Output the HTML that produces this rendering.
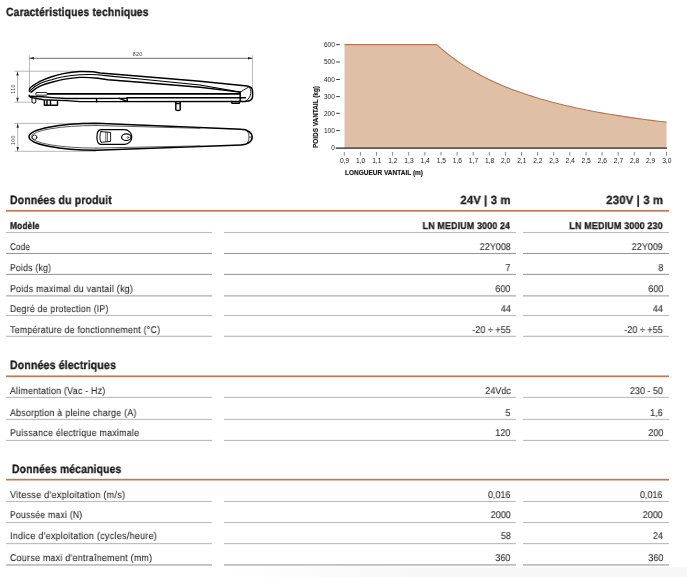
<!DOCTYPE html>
<html><head><meta charset="utf-8"><style>
html,body{margin:0;padding:0;background:#fff;}
body{width:687px;height:577px;position:relative;overflow:hidden;font-family:"Liberation Sans",sans-serif;}
.t{position:absolute;white-space:nowrap;text-rendering:geometricPrecision;will-change:transform;}
.l{position:absolute;}
svg{position:absolute;left:0;top:0;}
</style></head><body>
<div style="position:absolute;left:220px;top:567px;width:467px;height:10px;background:linear-gradient(to right,rgba(247,247,247,0),rgba(247,247,247,1) 45%)"></div>
<svg width="687" height="577" style="position:absolute;left:0;top:0"><rect x="6" y="209.95" width="663.0" height="1.7" fill="#bc7a55"/>
<rect x="6" y="231.95" width="206.0" height="1.1" fill="#bbbbbb"/>
<rect x="224" y="231.95" width="292.0" height="1.1" fill="#bbbbbb"/>
<rect x="523" y="231.95" width="146.0" height="1.1" fill="#bbbbbb"/>
<rect x="6" y="252.95" width="206.0" height="1.1" fill="#999"/>
<rect x="224" y="252.95" width="292.0" height="1.1" fill="#999"/>
<rect x="523" y="252.95" width="146.0" height="1.1" fill="#999"/>
<rect x="6" y="273.85" width="206.0" height="1.1" fill="#9c9c9c"/>
<rect x="224" y="273.85" width="292.0" height="1.1" fill="#9c9c9c"/>
<rect x="523" y="273.85" width="146.0" height="1.1" fill="#9c9c9c"/>
<rect x="6" y="294.90" width="206.0" height="1.8" fill="#c2c2c2"/>
<rect x="224" y="294.90" width="292.0" height="1.8" fill="#c2c2c2"/>
<rect x="523" y="294.90" width="146.0" height="1.8" fill="#c2c2c2"/>
<rect x="6" y="314.95" width="206.0" height="1.1" fill="#bbbbbb"/>
<rect x="224" y="314.95" width="292.0" height="1.1" fill="#bbbbbb"/>
<rect x="523" y="314.95" width="146.0" height="1.1" fill="#bbbbbb"/>
<rect x="6" y="335.75" width="206.0" height="1.1" fill="#bbbbbb"/>
<rect x="224" y="335.75" width="292.0" height="1.1" fill="#bbbbbb"/>
<rect x="523" y="335.75" width="146.0" height="1.1" fill="#bbbbbb"/>
<rect x="6" y="375.45" width="663.0" height="1.7" fill="#bc7a55"/>
<rect x="6" y="396.85" width="206.0" height="1.1" fill="#bbbbbb"/>
<rect x="224" y="396.85" width="292.0" height="1.1" fill="#bbbbbb"/>
<rect x="523" y="396.85" width="146.0" height="1.1" fill="#bbbbbb"/>
<rect x="6" y="418.85" width="206.0" height="1.1" fill="#bbbbbb"/>
<rect x="224" y="418.85" width="292.0" height="1.1" fill="#bbbbbb"/>
<rect x="523" y="418.85" width="146.0" height="1.1" fill="#bbbbbb"/>
<rect x="6" y="439.90" width="206.0" height="1.1" fill="#bbbbbb"/>
<rect x="224" y="439.90" width="292.0" height="1.1" fill="#bbbbbb"/>
<rect x="523" y="439.90" width="146.0" height="1.1" fill="#bbbbbb"/>
<rect x="6" y="478.80" width="663.0" height="1.7" fill="#bc7a55"/>
<rect x="6" y="500.95" width="206.0" height="1.1" fill="#bbbbbb"/>
<rect x="224" y="500.95" width="292.0" height="1.1" fill="#bbbbbb"/>
<rect x="523" y="500.95" width="146.0" height="1.1" fill="#bbbbbb"/>
<rect x="6" y="521.95" width="206.0" height="1.1" fill="#bbbbbb"/>
<rect x="224" y="521.95" width="292.0" height="1.1" fill="#bbbbbb"/>
<rect x="523" y="521.95" width="146.0" height="1.1" fill="#bbbbbb"/>
<rect x="6" y="543.05" width="206.0" height="1.1" fill="#bbbbbb"/>
<rect x="224" y="543.05" width="292.0" height="1.1" fill="#bbbbbb"/>
<rect x="523" y="543.05" width="146.0" height="1.1" fill="#bbbbbb"/>
<rect x="6" y="564.00" width="206.0" height="1.8" fill="#c0c0c0"/>
<rect x="224" y="564.00" width="292.0" height="1.8" fill="#c0c0c0"/>
<rect x="523" y="564.00" width="146.0" height="1.8" fill="#c0c0c0"/>
</svg>
<div class="t" style="left:6.3px;transform-origin:0 0;transform:scaleX(0.8648);top:5.54px;font-size:12px;line-height:12px;letter-spacing:0.15px;font-weight:bold;color:#1c1a1b;-webkit-text-stroke:0.3px #1c1a1b">Caractéristiques techniques</div>
<div class="t" style="left:10px;transform-origin:0 0;transform:scaleX(0.8773);top:193.94px;font-size:12px;line-height:12px;letter-spacing:0.15px;font-weight:bold;color:#1c1a1b;-webkit-text-stroke:0.3px #1c1a1b">Données du produit</div>
<div class="t" style="right:176.5px;transform-origin:100% 0;transform:scaleX(0.9537);top:194.91px;font-size:11.8px;line-height:11.8px;letter-spacing:0.15px;font-weight:bold;color:#1c1a1b;-webkit-text-stroke:0.3px #1c1a1b">24V | 3 m</div>
<div class="t" style="right:24px;transform-origin:100% 0;transform:scaleX(0.9620);top:194.91px;font-size:11.8px;line-height:11.8px;letter-spacing:0.15px;font-weight:bold;color:#1c1a1b;-webkit-text-stroke:0.3px #1c1a1b">230V | 3 m</div>
<div class="t" style="left:10px;transform-origin:0 0;transform:scaleX(0.8570);top:221.50px;font-size:9.8px;line-height:9.8px;letter-spacing:0.15px;font-weight:bold;color:#1c1a1b;-webkit-text-stroke:0.3px #1c1a1b">Modèle</div>
<div class="t" style="right:176.5px;transform-origin:100% 0;transform:scaleX(0.9106);top:221.50px;font-size:9.8px;line-height:9.8px;letter-spacing:0.15px;font-weight:bold;color:#1c1a1b;-webkit-text-stroke:0.3px #1c1a1b">LN MEDIUM 3000 24</div>
<div class="t" style="right:24px;transform-origin:100% 0;transform:scaleX(0.9185);top:221.50px;font-size:9.8px;line-height:9.8px;letter-spacing:0.15px;font-weight:bold;color:#1c1a1b;-webkit-text-stroke:0.3px #1c1a1b">LN MEDIUM 3000 230</div>
<div class="t" style="left:10px;transform-origin:0 0;transform:scaleX(0.8203);top:242.70px;font-size:9.8px;line-height:9.8px;letter-spacing:0.3px;font-weight:normal;color:#2a2a2a;-webkit-text-stroke:0.1px #2a2a2a">Code</div>
<div class="t" style="right:176.5px;transform-origin:100% 0;transform:scaleX(0.9200);top:242.70px;font-size:9.8px;line-height:9.8px;letter-spacing:0px;font-weight:normal;color:#2a2a2a;-webkit-text-stroke:0.1px #2a2a2a">22Y008</div>
<div class="t" style="right:24px;transform-origin:100% 0;transform:scaleX(0.9200);top:242.70px;font-size:9.8px;line-height:9.8px;letter-spacing:0px;font-weight:normal;color:#2a2a2a;-webkit-text-stroke:0.1px #2a2a2a">22Y009</div>
<div class="t" style="left:10px;transform-origin:0 0;transform:scaleX(0.8767);top:263.60px;font-size:9.8px;line-height:9.8px;letter-spacing:0.3px;font-weight:normal;color:#2a2a2a;-webkit-text-stroke:0.1px #2a2a2a">Poids (kg)</div>
<div class="t" style="right:176.5px;transform-origin:100% 0;transform:scaleX(0.9200);top:263.60px;font-size:9.8px;line-height:9.8px;letter-spacing:0px;font-weight:normal;color:#2a2a2a;-webkit-text-stroke:0.1px #2a2a2a">7</div>
<div class="t" style="right:24px;transform-origin:100% 0;transform:scaleX(0.9200);top:263.60px;font-size:9.8px;line-height:9.8px;letter-spacing:0px;font-weight:normal;color:#2a2a2a;-webkit-text-stroke:0.1px #2a2a2a">8</div>
<div class="t" style="left:10px;transform-origin:0 0;transform:scaleX(0.9008);top:284.50px;font-size:9.8px;line-height:9.8px;letter-spacing:0.3px;font-weight:normal;color:#2a2a2a;-webkit-text-stroke:0.1px #2a2a2a">Poids maximal du vantail (kg)</div>
<div class="t" style="right:176.5px;transform-origin:100% 0;transform:scaleX(0.9200);top:284.50px;font-size:9.8px;line-height:9.8px;letter-spacing:0px;font-weight:normal;color:#2a2a2a;-webkit-text-stroke:0.1px #2a2a2a">600</div>
<div class="t" style="right:24px;transform-origin:100% 0;transform:scaleX(0.9200);top:284.50px;font-size:9.8px;line-height:9.8px;letter-spacing:0px;font-weight:normal;color:#2a2a2a;-webkit-text-stroke:0.1px #2a2a2a">600</div>
<div class="t" style="left:10px;transform-origin:0 0;transform:scaleX(0.8831);top:304.50px;font-size:9.8px;line-height:9.8px;letter-spacing:0.3px;font-weight:normal;color:#2a2a2a;-webkit-text-stroke:0.1px #2a2a2a">Degré de protection (IP)</div>
<div class="t" style="right:176.5px;transform-origin:100% 0;transform:scaleX(0.9200);top:304.50px;font-size:9.8px;line-height:9.8px;letter-spacing:0px;font-weight:normal;color:#2a2a2a;-webkit-text-stroke:0.1px #2a2a2a">44</div>
<div class="t" style="right:24px;transform-origin:100% 0;transform:scaleX(0.9200);top:304.50px;font-size:9.8px;line-height:9.8px;letter-spacing:0px;font-weight:normal;color:#2a2a2a;-webkit-text-stroke:0.1px #2a2a2a">44</div>
<div class="t" style="left:10px;transform-origin:0 0;transform:scaleX(0.8905);top:325.80px;font-size:9.8px;line-height:9.8px;letter-spacing:0.3px;font-weight:normal;color:#2a2a2a;-webkit-text-stroke:0.1px #2a2a2a">Température de fonctionnement (°C)</div>
<div class="t" style="right:176.5px;transform-origin:100% 0;transform:scaleX(0.9200);top:325.80px;font-size:9.8px;line-height:9.8px;letter-spacing:0px;font-weight:normal;color:#2a2a2a;-webkit-text-stroke:0.1px #2a2a2a">-20 ÷ +55</div>
<div class="t" style="right:24px;transform-origin:100% 0;transform:scaleX(0.9200);top:325.80px;font-size:9.8px;line-height:9.8px;letter-spacing:0px;font-weight:normal;color:#2a2a2a;-webkit-text-stroke:0.1px #2a2a2a">-20 ÷ +55</div>
<div class="t" style="left:9.8px;transform-origin:0 0;transform:scaleX(0.8816);top:359.04px;font-size:12px;line-height:12px;letter-spacing:0.15px;font-weight:bold;color:#1c1a1b;-webkit-text-stroke:0.3px #1c1a1b">Données électriques</div>
<div class="t" style="left:10px;transform-origin:0 0;transform:scaleX(0.8933);top:386.80px;font-size:9.8px;line-height:9.8px;letter-spacing:0.3px;font-weight:normal;color:#2a2a2a;-webkit-text-stroke:0.1px #2a2a2a">Alimentation (Vac - Hz)</div>
<div class="t" style="right:176.5px;transform-origin:100% 0;transform:scaleX(0.9200);top:386.80px;font-size:9.8px;line-height:9.8px;letter-spacing:0px;font-weight:normal;color:#2a2a2a;-webkit-text-stroke:0.1px #2a2a2a">24Vdc</div>
<div class="t" style="right:24px;transform-origin:100% 0;transform:scaleX(0.9200);top:386.80px;font-size:9.8px;line-height:9.8px;letter-spacing:0px;font-weight:normal;color:#2a2a2a;-webkit-text-stroke:0.1px #2a2a2a">230 - 50</div>
<div class="t" style="left:10px;transform-origin:0 0;transform:scaleX(0.8964);top:409.00px;font-size:9.8px;line-height:9.8px;letter-spacing:0.3px;font-weight:normal;color:#2a2a2a;-webkit-text-stroke:0.1px #2a2a2a">Absorption à pleine charge (A)</div>
<div class="t" style="right:176.5px;transform-origin:100% 0;transform:scaleX(0.9200);top:409.00px;font-size:9.8px;line-height:9.8px;letter-spacing:0px;font-weight:normal;color:#2a2a2a;-webkit-text-stroke:0.1px #2a2a2a">5</div>
<div class="t" style="right:24px;transform-origin:100% 0;transform:scaleX(0.9200);top:409.00px;font-size:9.8px;line-height:9.8px;letter-spacing:0px;font-weight:normal;color:#2a2a2a;-webkit-text-stroke:0.1px #2a2a2a">1,6</div>
<div class="t" style="left:10px;transform-origin:0 0;transform:scaleX(0.8995);top:429.20px;font-size:9.8px;line-height:9.8px;letter-spacing:0.3px;font-weight:normal;color:#2a2a2a;-webkit-text-stroke:0.1px #2a2a2a">Puissance électrique maximale</div>
<div class="t" style="right:176.5px;transform-origin:100% 0;transform:scaleX(0.9200);top:429.20px;font-size:9.8px;line-height:9.8px;letter-spacing:0px;font-weight:normal;color:#2a2a2a;-webkit-text-stroke:0.1px #2a2a2a">120</div>
<div class="t" style="right:24px;transform-origin:100% 0;transform:scaleX(0.9200);top:429.20px;font-size:9.8px;line-height:9.8px;letter-spacing:0px;font-weight:normal;color:#2a2a2a;-webkit-text-stroke:0.1px #2a2a2a">200</div>
<div class="t" style="left:11.7px;transform-origin:0 0;transform:scaleX(0.8677);top:463.14px;font-size:12px;line-height:12px;letter-spacing:0.15px;font-weight:bold;color:#1c1a1b;-webkit-text-stroke:0.3px #1c1a1b">Données mécaniques</div>
<div class="t" style="left:10px;transform-origin:0 0;transform:scaleX(0.9225);top:490.50px;font-size:9.8px;line-height:9.8px;letter-spacing:0.3px;font-weight:normal;color:#2a2a2a;-webkit-text-stroke:0.1px #2a2a2a">Vitesse d'exploitation (m/s)</div>
<div class="t" style="right:176.5px;transform-origin:100% 0;transform:scaleX(0.9200);top:490.50px;font-size:9.8px;line-height:9.8px;letter-spacing:0px;font-weight:normal;color:#2a2a2a;-webkit-text-stroke:0.1px #2a2a2a">0,016</div>
<div class="t" style="right:24px;transform-origin:100% 0;transform:scaleX(0.9200);top:490.50px;font-size:9.8px;line-height:9.8px;letter-spacing:0px;font-weight:normal;color:#2a2a2a;-webkit-text-stroke:0.1px #2a2a2a">0,016</div>
<div class="t" style="left:10px;transform-origin:0 0;transform:scaleX(0.8771);top:511.40px;font-size:9.8px;line-height:9.8px;letter-spacing:0.3px;font-weight:normal;color:#2a2a2a;-webkit-text-stroke:0.1px #2a2a2a">Poussée maxi (N)</div>
<div class="t" style="right:176.5px;transform-origin:100% 0;transform:scaleX(0.9200);top:511.40px;font-size:9.8px;line-height:9.8px;letter-spacing:0px;font-weight:normal;color:#2a2a2a;-webkit-text-stroke:0.1px #2a2a2a">2000</div>
<div class="t" style="right:24px;transform-origin:100% 0;transform:scaleX(0.9200);top:511.40px;font-size:9.8px;line-height:9.8px;letter-spacing:0px;font-weight:normal;color:#2a2a2a;-webkit-text-stroke:0.1px #2a2a2a">2000</div>
<div class="t" style="left:10px;transform-origin:0 0;transform:scaleX(0.9142);top:532.30px;font-size:9.8px;line-height:9.8px;letter-spacing:0.3px;font-weight:normal;color:#2a2a2a;-webkit-text-stroke:0.1px #2a2a2a">Indice d'exploitation (cycles/heure)</div>
<div class="t" style="right:176.5px;transform-origin:100% 0;transform:scaleX(0.9200);top:532.30px;font-size:9.8px;line-height:9.8px;letter-spacing:0px;font-weight:normal;color:#2a2a2a;-webkit-text-stroke:0.1px #2a2a2a">58</div>
<div class="t" style="right:24px;transform-origin:100% 0;transform:scaleX(0.9200);top:532.30px;font-size:9.8px;line-height:9.8px;letter-spacing:0px;font-weight:normal;color:#2a2a2a;-webkit-text-stroke:0.1px #2a2a2a">24</div>
<div class="t" style="left:10px;transform-origin:0 0;transform:scaleX(0.9033);top:553.80px;font-size:9.8px;line-height:9.8px;letter-spacing:0.3px;font-weight:normal;color:#2a2a2a;-webkit-text-stroke:0.1px #2a2a2a">Course maxi d'entraînement (mm)</div>
<div class="t" style="right:176.5px;transform-origin:100% 0;transform:scaleX(0.9200);top:553.80px;font-size:9.8px;line-height:9.8px;letter-spacing:0px;font-weight:normal;color:#2a2a2a;-webkit-text-stroke:0.1px #2a2a2a">360</div>
<div class="t" style="right:24px;transform-origin:100% 0;transform:scaleX(0.9200);top:553.80px;font-size:9.8px;line-height:9.8px;letter-spacing:0px;font-weight:normal;color:#2a2a2a;-webkit-text-stroke:0.1px #2a2a2a">360</div>

<svg width="687" height="577" viewBox="0 0 687 577">
<g fill="none" stroke="#1e1e1e" stroke-linecap="round" stroke-linejoin="round">
<!-- dimension 820 -->
<g stroke="#888" stroke-width="0.6">
<line x1="29.5" y1="55.7" x2="29.5" y2="90.5"/>
<line x1="252.4" y1="55.7" x2="252.4" y2="88"/>
<line x1="14.6" y1="71.2" x2="80" y2="71.2"/>
<line x1="14.6" y1="102.2" x2="32" y2="102.2"/>
<line x1="17.5" y1="72" x2="17.5" y2="101.5"/>
<line x1="15" y1="123.4" x2="96" y2="123.4"/>
<line x1="15" y1="151.3" x2="96" y2="151.3"/>
<line x1="17.7" y1="124" x2="17.7" y2="150.7"/>
</g>
<line x1="30" y1="58.3" x2="252" y2="58.3" stroke="#333" stroke-width="0.7"/>
<g fill="#222" stroke="none">
<path d="M29.5,58.3 L34,57 L34,59.6 Z"/>
<path d="M252.4,58.3 L248,57 L248,59.6 Z"/>
<path d="M17.5,71.4 L16.3,75.6 L18.7,75.6 Z"/>
<path d="M17.5,102 L16.3,97.8 L18.7,97.8 Z"/>
<path d="M17.7,123.6 L16.5,127.8 L18.9,127.8 Z"/>
<path d="M17.7,151.1 L16.5,146.9 L18.9,146.9 Z"/>
</g>
<!-- side view body -->
<g stroke-width="1.45" stroke="#000">
<path d="M29.5,91.6 L29.6,88.6 C32.5,85.5 36,83.5 40,81.4 C44,79.5 48,78 51.6,76.8 C56,75.3 60,74.3 63.3,73.6 C68,72.6 74,71.7 80,71.5 C86,71.3 90,71.6 93.2,71.8 L100.2,73 L140,76.2 L200,81.2 L247.2,86 C250.5,86.4 252.6,88.5 252.6,91.5 L252.6,96 C252.6,99.5 249.5,101.3 245.4,101.4"/>
<path d="M30.6,90.1 C33.5,87.5 37,85 40,83.5 C44,81.7 48,80.7 51.6,79.7 C56,78.3 60,77.4 63.3,76.8 C68,75.8 73,75 80,74.7 C86,74.5 92,74.4 97.9,74.7 L108,75.9 L140,79 L200,85 L240.2,92.1" stroke-width="1.1"/>
<path d="M31.8,91.6 C34,89.6 37,87.5 40,86.1 C44,84.4 48,83.2 51.6,82.3 C56,81 60,80 63.3,79.4 C68,78.5 74,77.6 80,77.4 C86,77.3 92,77.6 97.9,78.2 L108,79.7 L140,82.2 L200,87.3 L240.2,92.1"/>
<path d="M240.2,92.1 L248.9,86.9 C252,89.5 252,97.5 245.4,101.3" stroke-width="0.9"/>
<path d="M240.2,92.1 L240.2,101.3"/>
<path d="M29.5,91.6 L31.8,92.4" stroke-width="1"/>
<rect x="35.6" y="92.5" width="11.9" height="2.7" rx="1.3" stroke-width="0.8"/>
<line x1="47.5" y1="93.8" x2="240.2" y2="93.8" stroke-width="1.7"/>
<path d="M29.3,95.3 L29.3,96.5 L31.8,96.2 L42.3,96.8 L52.2,97.6 L66,98.5 L127,98.3 L127,97.6 L245.4,97.8"/>
<path d="M30.7,97.4 L43.5,99.7 L66,100.6 L80,101.6 L245.4,101.4"/>
<path d="M96.6,99.5 L96.6,101.7 M119.3,98.3 L126.3,101.2 M127.2,97.6 L127.2,101.2"/>
<path d="M32,97.8 L32,101.8 C32,103.6 35.8,103.6 35.8,101.8 L35.8,98" stroke-width="1"/>
<path d="M44.4,100.8 L44.4,105.3 L57.5,105.3 L57.5,101.2 M47,100.8 L47,105.3 M50.5,101 L50.5,105.3"/>
<path d="M175.8,101.6 L175.8,109.8 C175.8,110.8 180.2,110.8 180.2,109.8 L180.2,101.6 M175.8,103.5 L180.2,103.5"/>
<path d="M231.4,101.4 L232,103.3 L239.2,103.3 L239.7,101.4"/>
</g>
<!-- top view -->
<g stroke="#000">
<path d="M96,123.3 L241.3,129.2 A10.9,7.9 0 0 1 241.3,145 L96,150.3 A67,13.5 0 0 1 96,123.3 Z" stroke-width="1.55"/>
<path d="M96,125.5 L200,128.3 M96,148.1 L200,145.9 M96,125.5 A64.8,11.3 0 0 0 96,148.1" stroke-width="0.8" stroke="#333"/>
<path d="M247.3,131.2 C249.6,133.5 249.6,140.7 247.3,143 M249.4,137.1 L252,137.1" stroke-width="0.7"/>
<circle cx="34.6" cy="137.3" r="2.3" stroke-width="0.8"/>
<path d="M101,129.7 L124.5,129.7 A7.3,7.3 0 0 1 124.5,144.3 L101,144.3 C98,144.3 96.9,141 96.9,137 C96.9,133 98,129.7 101,129.7 Z" stroke-width="1.2"/>
<path d="M101,131.6 L110.6,132.4 L110.6,141.4 L101,142.3 C99.5,140 99.5,134 101,131.6 Z" stroke-width="0.9"/>
<path d="M105.8,132.5 L105.8,141.3 M107.4,132.5 L107.4,141.3" stroke-width="0.6"/>
<ellipse cx="126.3" cy="137.2" rx="4.7" ry="3.3" stroke-width="1.2"/>
<circle cx="127.8" cy="137.5" r="0.9" stroke-width="0.5"/>
</g>
</g>
<g font-family="Liberation Sans" fill="#444" font-size="5.2">
<text x="132.8" y="55.7" letter-spacing="0.4">820</text>
<text transform="translate(14.8,93.7) rotate(-90)" letter-spacing="0.4">110</text>
<text transform="translate(15,145.1) rotate(-90)" letter-spacing="0.4">100</text>
</g>
<path d="M344.5,148.0 L344.5,44.6 L436.5,44.45 L441.5,48.87 L446.5,53.00 L451.5,56.87 L456.5,60.50 L461.5,63.91 L466.5,67.12 L471.5,70.15 L476.5,73.01 L481.5,75.71 L486.5,78.26 L491.5,80.67 L496.5,82.97 L501.5,85.14 L506.5,87.21 L511.5,89.17 L516.5,91.04 L521.5,92.82 L526.5,94.52 L531.5,96.14 L536.5,97.69 L541.5,99.17 L546.5,100.59 L551.5,101.94 L556.5,103.24 L561.5,104.49 L566.5,105.68 L571.5,106.83 L576.5,107.93 L581.5,108.99 L586.5,110.01 L591.5,110.98 L596.5,111.93 L601.5,112.84 L606.5,113.71 L611.5,114.55 L616.5,115.37 L621.5,116.15 L626.5,116.91 L631.5,117.64 L636.5,118.35 L641.5,119.04 L646.5,119.70 L651.5,120.34 L656.5,120.96 L661.5,121.56 L666.5,122.15 L666.5,148.0 Z" fill="#dfbfa5" stroke="none"/>
<path d="M344.5,44.6 L436.5,44.45 L441.5,48.87 L446.5,53.00 L451.5,56.87 L456.5,60.50 L461.5,63.91 L466.5,67.12 L471.5,70.15 L476.5,73.01 L481.5,75.71 L486.5,78.26 L491.5,80.67 L496.5,82.97 L501.5,85.14 L506.5,87.21 L511.5,89.17 L516.5,91.04 L521.5,92.82 L526.5,94.52 L531.5,96.14 L536.5,97.69 L541.5,99.17 L546.5,100.59 L551.5,101.94 L556.5,103.24 L561.5,104.49 L566.5,105.68 L571.5,106.83 L576.5,107.93 L581.5,108.99 L586.5,110.01 L591.5,110.98 L596.5,111.93 L601.5,112.84 L606.5,113.71 L611.5,114.55 L616.5,115.37 L621.5,116.15 L626.5,116.91 L631.5,117.64 L636.5,118.35 L641.5,119.04 L646.5,119.70 L651.5,120.34 L656.5,120.96 L661.5,121.56 L666.5,122.15" fill="none" stroke="#b8744c" stroke-width="1.1"/>
<line x1="335.8" y1="148.2" x2="667" y2="148.2" stroke="#222" stroke-width="1.3"/>
<line x1="336.2" y1="44.6" x2="339.8" y2="44.6" stroke="#222" stroke-width="0.9"/>
<text x="334.8" y="47.0" text-anchor="end" font-size="6.8" fill="#222" font-family="Liberation Sans" textLength="10.9" lengthAdjust="spacingAndGlyphs">600</text>
<line x1="336.2" y1="62.0" x2="339.8" y2="62.0" stroke="#222" stroke-width="0.9"/>
<text x="334.8" y="64.4" text-anchor="end" font-size="6.8" fill="#222" font-family="Liberation Sans" textLength="10.9" lengthAdjust="spacingAndGlyphs">500</text>
<line x1="336.2" y1="79.5" x2="339.8" y2="79.5" stroke="#222" stroke-width="0.9"/>
<text x="334.8" y="81.9" text-anchor="end" font-size="6.8" fill="#222" font-family="Liberation Sans" textLength="10.9" lengthAdjust="spacingAndGlyphs">400</text>
<line x1="336.2" y1="96.6" x2="339.8" y2="96.6" stroke="#222" stroke-width="0.9"/>
<text x="334.8" y="99.0" text-anchor="end" font-size="6.8" fill="#222" font-family="Liberation Sans" textLength="10.9" lengthAdjust="spacingAndGlyphs">300</text>
<line x1="336.2" y1="113.3" x2="339.8" y2="113.3" stroke="#222" stroke-width="0.9"/>
<text x="334.8" y="115.7" text-anchor="end" font-size="6.8" fill="#222" font-family="Liberation Sans" textLength="10.9" lengthAdjust="spacingAndGlyphs">200</text>
<line x1="336.2" y1="130.6" x2="339.8" y2="130.6" stroke="#222" stroke-width="0.9"/>
<text x="334.8" y="133.0" text-anchor="end" font-size="6.8" fill="#222" font-family="Liberation Sans" textLength="10.9" lengthAdjust="spacingAndGlyphs">100</text>
<text x="334.8" y="150.4" text-anchor="end" font-size="6.8" fill="#222" font-family="Liberation Sans" textLength="3.6" lengthAdjust="spacingAndGlyphs">0</text>
<line x1="344.3" y1="152" x2="344.3" y2="155.6" stroke="#555" stroke-width="0.7"/>
<text x="344.6" y="163.2" text-anchor="middle" font-size="6.7" fill="#222" font-family="Liberation Sans">0,9</text>
<line x1="360.4" y1="152" x2="360.4" y2="155.6" stroke="#555" stroke-width="0.7"/>
<text x="360.7" y="163.2" text-anchor="middle" font-size="6.7" fill="#222" font-family="Liberation Sans">1,0</text>
<line x1="376.5" y1="152" x2="376.5" y2="155.6" stroke="#555" stroke-width="0.7"/>
<text x="376.8" y="163.2" text-anchor="middle" font-size="6.7" fill="#222" font-family="Liberation Sans">1,1</text>
<line x1="392.6" y1="152" x2="392.6" y2="155.6" stroke="#555" stroke-width="0.7"/>
<text x="392.9" y="163.2" text-anchor="middle" font-size="6.7" fill="#222" font-family="Liberation Sans">1,2</text>
<line x1="408.7" y1="152" x2="408.7" y2="155.6" stroke="#555" stroke-width="0.7"/>
<text x="409.0" y="163.2" text-anchor="middle" font-size="6.7" fill="#222" font-family="Liberation Sans">1,3</text>
<line x1="424.9" y1="152" x2="424.9" y2="155.6" stroke="#555" stroke-width="0.7"/>
<text x="425.2" y="163.2" text-anchor="middle" font-size="6.7" fill="#222" font-family="Liberation Sans">1,4</text>
<line x1="441.0" y1="152" x2="441.0" y2="155.6" stroke="#555" stroke-width="0.7"/>
<text x="441.3" y="163.2" text-anchor="middle" font-size="6.7" fill="#222" font-family="Liberation Sans">1,5</text>
<line x1="457.1" y1="152" x2="457.1" y2="155.6" stroke="#555" stroke-width="0.7"/>
<text x="457.4" y="163.2" text-anchor="middle" font-size="6.7" fill="#222" font-family="Liberation Sans">1,6</text>
<line x1="473.2" y1="152" x2="473.2" y2="155.6" stroke="#555" stroke-width="0.7"/>
<text x="473.5" y="163.2" text-anchor="middle" font-size="6.7" fill="#222" font-family="Liberation Sans">1,7</text>
<line x1="489.3" y1="152" x2="489.3" y2="155.6" stroke="#555" stroke-width="0.7"/>
<text x="489.6" y="163.2" text-anchor="middle" font-size="6.7" fill="#222" font-family="Liberation Sans">1,8</text>
<line x1="505.4" y1="152" x2="505.4" y2="155.6" stroke="#555" stroke-width="0.7"/>
<text x="505.7" y="163.2" text-anchor="middle" font-size="6.7" fill="#222" font-family="Liberation Sans">2,0</text>
<line x1="521.5" y1="152" x2="521.5" y2="155.6" stroke="#555" stroke-width="0.7"/>
<text x="521.8" y="163.2" text-anchor="middle" font-size="6.7" fill="#222" font-family="Liberation Sans">2,1</text>
<line x1="537.6" y1="152" x2="537.6" y2="155.6" stroke="#555" stroke-width="0.7"/>
<text x="537.9" y="163.2" text-anchor="middle" font-size="6.7" fill="#222" font-family="Liberation Sans">2,2</text>
<line x1="553.7" y1="152" x2="553.7" y2="155.6" stroke="#555" stroke-width="0.7"/>
<text x="554.0" y="163.2" text-anchor="middle" font-size="6.7" fill="#222" font-family="Liberation Sans">2,3</text>
<line x1="569.8" y1="152" x2="569.8" y2="155.6" stroke="#555" stroke-width="0.7"/>
<text x="570.1" y="163.2" text-anchor="middle" font-size="6.7" fill="#222" font-family="Liberation Sans">2,4</text>
<line x1="586.0" y1="152" x2="586.0" y2="155.6" stroke="#555" stroke-width="0.7"/>
<text x="586.2" y="163.2" text-anchor="middle" font-size="6.7" fill="#222" font-family="Liberation Sans">2,5</text>
<line x1="602.1" y1="152" x2="602.1" y2="155.6" stroke="#555" stroke-width="0.7"/>
<text x="602.4" y="163.2" text-anchor="middle" font-size="6.7" fill="#222" font-family="Liberation Sans">2,6</text>
<line x1="618.2" y1="152" x2="618.2" y2="155.6" stroke="#555" stroke-width="0.7"/>
<text x="618.5" y="163.2" text-anchor="middle" font-size="6.7" fill="#222" font-family="Liberation Sans">2,7</text>
<line x1="634.3" y1="152" x2="634.3" y2="155.6" stroke="#555" stroke-width="0.7"/>
<text x="634.6" y="163.2" text-anchor="middle" font-size="6.7" fill="#222" font-family="Liberation Sans">2,8</text>
<line x1="650.4" y1="152" x2="650.4" y2="155.6" stroke="#555" stroke-width="0.7"/>
<text x="650.7" y="163.2" text-anchor="middle" font-size="6.7" fill="#222" font-family="Liberation Sans">2,9</text>
<line x1="666.5" y1="152" x2="666.5" y2="155.6" stroke="#555" stroke-width="0.7"/>
<text x="666.8" y="163.2" text-anchor="middle" font-size="6.7" fill="#222" font-family="Liberation Sans">3,0</text>
<text x="345" y="175" font-size="6.5" font-weight="bold" fill="#111" stroke="#111" stroke-width="0.12" font-family="Liberation Sans">LONGUEUR VANTAIL (m)</text>
<text transform="translate(318.2,148) rotate(-90)" font-size="6.7" font-weight="bold" fill="#111" stroke="#111" stroke-width="0.12" textLength="62" lengthAdjust="spacingAndGlyphs" font-family="Liberation Sans">POIDS VANTAIL (kg)</text>
</svg>

</body></html>
